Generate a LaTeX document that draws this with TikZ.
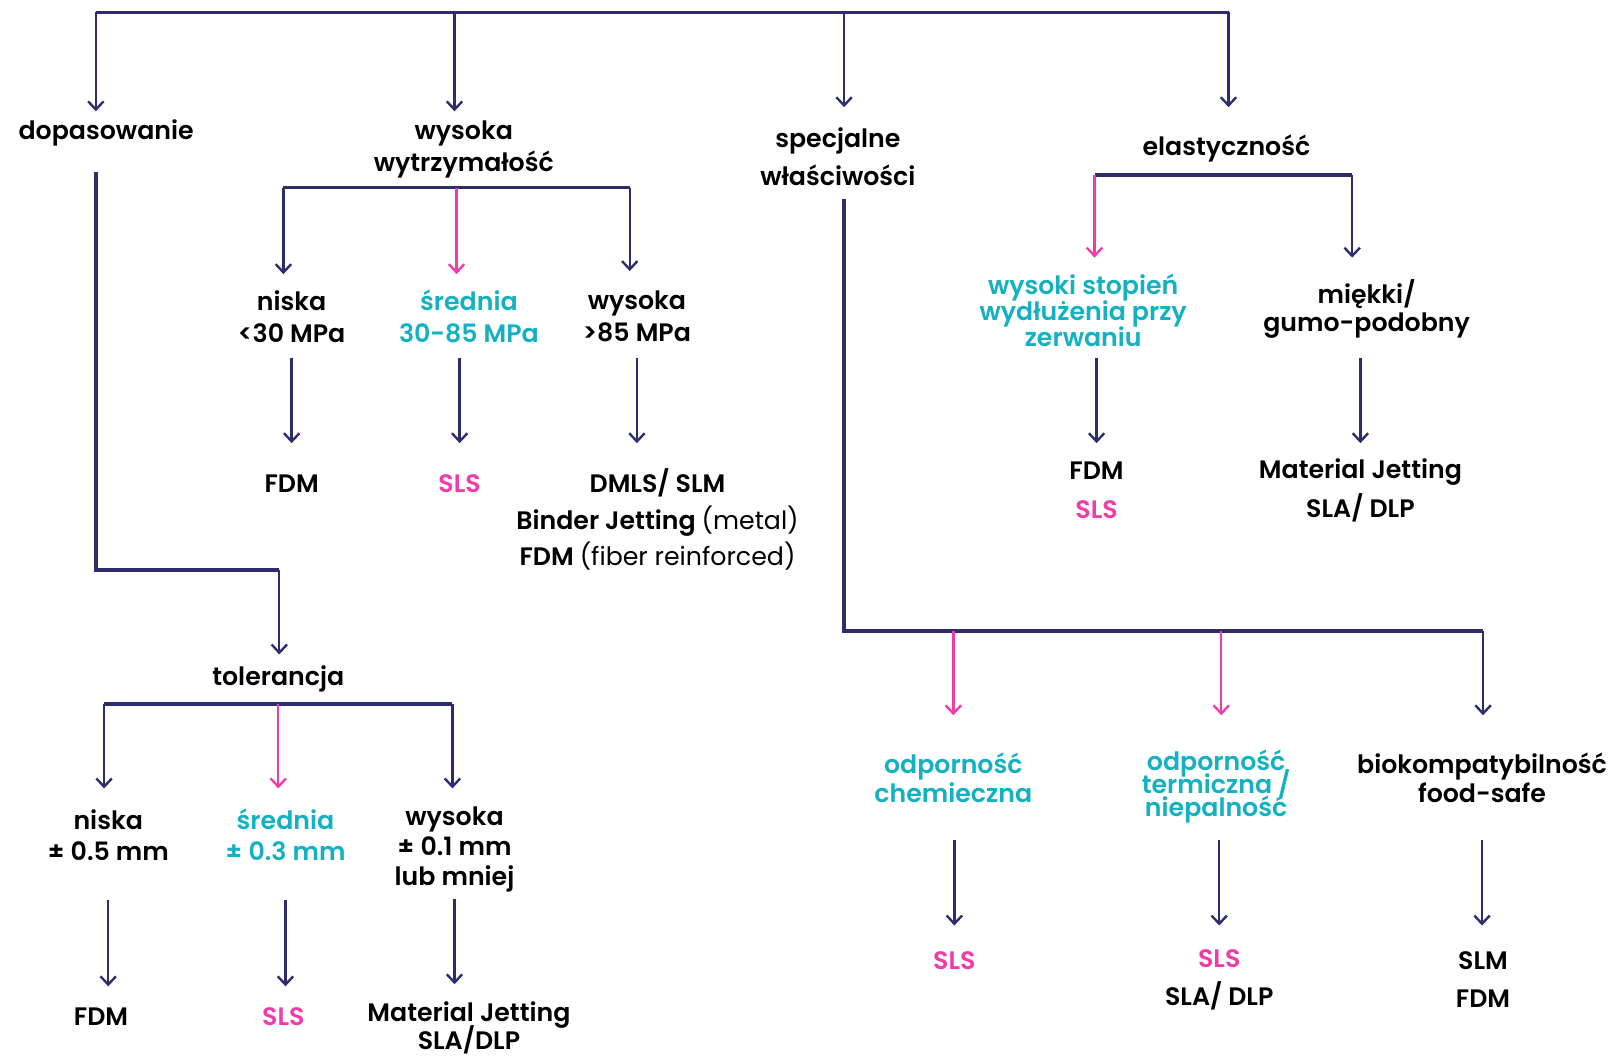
\documentclass[tikz,border=0pt]{standalone}
\usepackage{fontspec}
\setmainfont{Poppins}
\newfontfamily\medf{Poppins SemiBold}
\newfontfamily\regf{Poppins}
\usetikzlibrary{arrows.meta}
\definecolor{navy}{HTML}{2E2B6F}
\definecolor{pinkc}{HTML}{F23BA9}
\definecolor{cyanc}{HTML}{13B1C1}
\newcommand{\fsk}[1]{\fontsize{24.5}{#1}\selectfont\lineskiplimit=-30pt}
\tikzstyle{lbl} = [font=\medf\fsk{31}, align=center, inner sep=0pt]
\tikzstyle{hot} = [lbl, text=cyanc]
\tikzstyle{best} = [lbl, text=pinkc]
\tikzstyle{bar} = [draw=navy, line width=3.5pt]
\tikzstyle{arr} = [draw=navy, line width=2.3pt, -{Straight Barb[length=8pt,width=15pt,line width=2.3pt]}]
\tikzstyle{parr} = [arr, draw=pinkc]

\begin{document}
\begin{tikzpicture}[x=1pt,y=-1pt]
\useasboundingbox (0,0) rectangle (1568,1026);
\coordinate (t1) at (93,12);
\coordinate (t2) at (441,12);
\coordinate (t3) at (819,12);
\coordinate (t4) at (1192,12);
\node[lbl] (dop) at (103,129) {dopasowanie};
\node[lbl] (wyt) at (450,145) {wysoka\\wytrzymałość};
\node[lbl, font=\medf\fsk{37}] (spec) at (813,152) {specjalne\\właściwości};
\node[lbl] (ela) at (1190,144) {elastyczność};
\draw[bar] (t1) -- (t4);
\draw[arr, shorten >=21pt] (t1) -- (t1 |- dop.center);
\draw[arr, shorten >=37pt] (t2) -- (t2 |- wyt.center);
\draw[arr, shorten >=48pt] (t3) -- (t3 |- spec.center);
\draw[arr, shorten >=40pt] (t4) -- (t4 |- ela.center);

\coordinate (w1) at (275,182);
\coordinate (w2) at (443,182);
\coordinate (w3) at (611,182);
\node[lbl] (wn) at (283,307) {niska\\<30 MPa};
\node[hot] (ws) at (455,307) {średnia\\30-85 MPa};
\node[lbl] (ww) at (618,307) {wysoka\\>85 MPa};
\draw[bar] (w1) -- (w3);
\draw[arr, shorten >=41pt] (w1) -- (w1 |- wn.center);
\draw[parr, shorten >=41pt] (w2) -- (w2 |- ws.center);
\draw[arr, shorten >=44pt] (w3) -- (w3 |- ww.center);
\node[lbl] (wfdm) at (283,469) {FDM};
\node[best] (wsls) at (446,469) {SLS};
\node[lbl, font=\medf\fsk{35}] (wmet) at (638,504) {DMLS/ SLM\\Binder Jetting {\regf(metal)}\\FDM {\regf(fiber reinforced)}};
\draw[arr, shorten <=40pt, shorten >=39pt] (wn.center) -- (wfdm.center);
\draw[arr, shorten <=40pt, shorten >=39pt] (wsls.center |- ws.center) -- (wsls.center);
\draw[arr, shorten <=40pt, shorten >=74pt] (ww.center) -- (ww.center |- wmet.center);

\coordinate (d1) at (271,553);
\node[lbl] (tol) at (270,659) {tolerancja};
\draw[bar, shorten <=38pt] (t1 |- dop.center) |- (d1);
\draw[arr, shorten >=24pt] (d1) -- (d1 |- tol.center);
\coordinate (o1) at (101,683);
\coordinate (o2) at (270,683);
\coordinate (o3) at (439,683);
\node[lbl, font=\medf\fsk{30}] (tn) at (105,810) {niska\\± 0.5 mm};
\node[hot, font=\medf\fsk{30}] (ts) at (277,810) {średnia\\± 0.3 mm};
\node[lbl, font=\medf\fsk{29}] (tw) at (441,824) {wysoka\\± 0.1 mm\\lub mniej};
\draw[bar] (o1) -- (o3);
\draw[arr, shorten >=45pt] (o1) -- (o1 |- tn.center);
\draw[parr, shorten >=45pt] (o2) -- (o2 |- ts.center);
\draw[arr, shorten >=59pt] (o3) -- (o3 |- tw.center);
\node[lbl] (tf) at (98,986) {FDM};
\node[best] (tss) at (275,986) {SLS};
\node[lbl, font=\medf\fsk{27}] (tmj) at (455,997) {Material Jetting\\SLA/DLP};
\draw[arr, shorten <=63pt, shorten >=29pt] (tn.center) -- (tn.center |- tf.center);
\draw[arr, shorten <=63pt, shorten >=29pt] (ts.center) -- (ts.center |- tss.center);
\draw[arr, shorten <=48pt, shorten >=42pt] (tw.center) -- (tw.center |- tmj.center);

\coordinate (s0) at (1439,612);
\coordinate (s1) at (925,612);
\coordinate (s2) at (1185,612);
\draw[bar, shorten <=41pt] (t3 |- spec.center) |- (s0);
\node[hot, font=\medf\fsk{28}] (sc) at (925,755) {odporność\\chemieczna};
\node[hot, font=\medf\fsk{22.5}] (st) at (1180,763) {odporność\\termiczna /\\ niepalność};
\node[lbl, font=\medf\fsk{28}] (sb) at (1438,755) {biokompatybilność\\food-safe};
\draw[parr, shorten >=61pt] (s1) -- (s1 |- sc.center);
\draw[parr, shorten >=69pt] (s2) -- (s2 |- st.center);
\draw[arr, shorten >=61pt] (s0) -- (s0 |- sb.center);
\node[best] (rc) at (926,932) {SLS};
\node[lbl, font=\medf\fsk{37}] (rt) at (1183,950.5) {\textcolor{pinkc}{SLS}\\SLA/ DLP};
\node[lbl, font=\medf\fsk{37}] (rb) at (1439,950.5) {SLM\\FDM};
\draw[arr, shorten <=60pt, shorten >=34pt] (rc.center |- sc.center) -- (rc.center);
\draw[arr, shorten <=52pt, shorten >=52.5pt] (rt.center |- st.center) -- (rt.center);
\draw[arr, shorten <=60pt, shorten >=52.5pt] (sb.center) -- (sb.center |- rb.center);

\coordinate (e1) at (1062,170);
\coordinate (e2) at (1312,170);
\node[hot, font=\medf\fsk{25}] (ew) at (1051,301) {wysoki stopień\\wydłużenia przy\\zerwaniu};
\node[lbl, font=\medf\fsk{27}] (em) at (1326,300) {miękki/\\gumo-podobny};
\draw[bar] (e1) -- (e2);
\draw[parr, shorten >=51pt] (e1) -- (e1 |- ew.center);
\draw[arr, shorten >=50pt] (e2) -- (e2 |- em.center);
\node[lbl, font=\medf\fsk{38}] (ef) at (1064,476) {FDM\\\textcolor{pinkc}{SLS}};
\node[lbl, font=\medf\fsk{38}] (ej) at (1320,476) {Material Jetting\\SLA/ DLP};
\draw[arr, shorten <=46pt, shorten >=46pt] (ef.center |- ew.center) -- (ef.center);
\draw[arr, shorten <=47pt, shorten >=46pt] (ej.center |- em.center) -- (ej.center);
\end{tikzpicture}
\end{document}
